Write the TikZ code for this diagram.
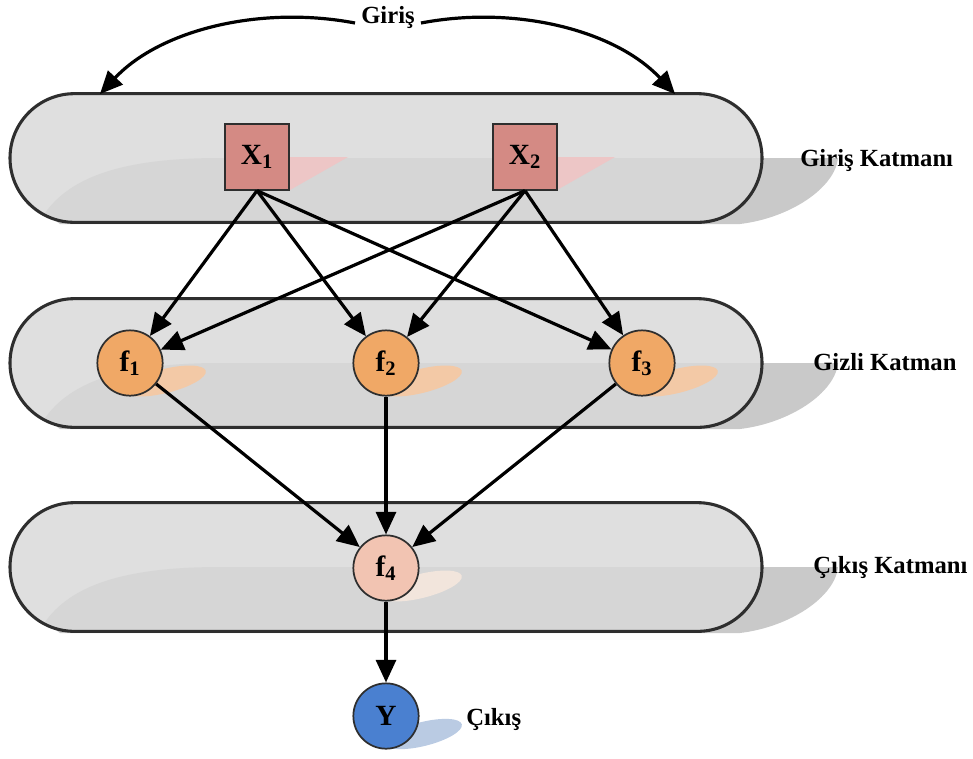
\documentclass[tikz,border=0pt]{standalone}
\usepackage{fontspec}
\setmainfont{Liberation Serif}
\usetikzlibrary{arrows.meta,shapes.misc}
\definecolor{bandfill}{HTML}{DFDFDF}
\definecolor{bandlow}{HTML}{D6D6D6}
\definecolor{bandshadow}{HTML}{C9C9C9}
\definecolor{bandline}{HTML}{2E2E2E}
\definecolor{xfill}{HTML}{D48A84}
\definecolor{xshadow}{HTML}{EDC6C6}
\definecolor{ffill}{HTML}{F0A866}
\definecolor{fshadow}{HTML}{F3C9A6}
\definecolor{ffourfill}{HTML}{F2C4B2}
\definecolor{ffourshadow}{HTML}{F2E5DC}
\definecolor{yfill}{HTML}{4A80D0}
\definecolor{yshadow}{HTML}{BACBE3}
\tikzset{
  xbox/.style={draw=bandline,line width=1.5pt,fill=xfill,minimum width=48pt,minimum height=49pt,inner sep=0pt,font=\fontsize{22}{23}\selectfont\bfseries},
  fcirc/.style={circle,draw=bandline,line width=1.3pt,minimum size=49pt,inner sep=0pt,font=\fontsize{22}{23}\selectfont\bfseries},
  lbl/.style={font=\fontsize{18.5}{19}\selectfont\bfseries,inner sep=0pt},
  conn/.style={line width=2.4pt,-{Triangle[length=17pt,width=15pt]}},
  bandbox/.style={rounded rectangle,draw=bandline,line width=2.3pt,minimum width=564pt,minimum height=96.5pt,inner sep=0pt}
}
\newcommand\layershadow[1]{%
  \fill[bandshadow] (45,#1+55) .. controls (70,#1+20) and (120,#1) .. (220,#1) -- (838,#1)
     .. controls (835,#1+30) and (790,#1+60) .. (740,#1+66) -- (60,#1+66) -- cycle;
  \fill[bandfill,rounded corners=48pt] (10,#1-64) rectangle (762,#1+65);
  \begin{scope}
    \clip[rounded corners=48pt] (10,#1-64) rectangle (762,#1+65);
    \fill[bandlow] (45,#1+55) .. controls (70,#1+20) and (120,#1) .. (220,#1) -- (838,#1)
     .. controls (835,#1+30) and (790,#1+60) .. (740,#1+66) -- (20,#1+70) -- cycle;
  \end{scope}}
\begin{document}
\begin{tikzpicture}[x=0.75pt,y=-0.75pt]
\useasboundingbox (0,0) rectangle (973,758);
% layer backgrounds
\layershadow{158}
\layershadow{363}
\layershadow{567}
\node[bandbox] (L1) at (386,158) {};
\node[bandbox] (L2) at (386,363) {};
\node[bandbox] (L3) at (386,567) {};
% node shadows
\fill[xshadow] (290,157) -- (348,157) -- (290,190) -- cycle;
\fill[xshadow] (557,157) -- (615,157) -- (557,190) -- cycle;
\fill[fshadow,rotate around={14:(165,381)}] (165,381) ellipse [x radius=42, y radius=12];
\fill[fshadow,rotate around={14:(421,381)}] (421,381) ellipse [x radius=42, y radius=12];
\fill[fshadow,rotate around={14:(677,381)}] (677,381) ellipse [x radius=42, y radius=12];
\fill[ffourshadow,rotate around={14:(421,586)}] (421,586) ellipse [x radius=42, y radius=12];
\fill[yshadow,rotate around={14:(423,734)}] (423,734) ellipse [x radius=40, y radius=12];
% nodes
\node[xbox] (x1) at (257,157) {X\textsubscript{1}};
\node[xbox] (x2) at (525,157) {X\textsubscript{2}};
\node[fcirc,fill=ffill] (f1) at (130,363) {f\textsubscript{1}};
\node[fcirc,fill=ffill] (f2) at (386,363) {f\textsubscript{2}};
\node[fcirc,fill=ffill] (f3) at (642,363) {f\textsubscript{3}};
\node[fcirc,fill=ffourfill] (f4) at (386,568) {f\textsubscript{4}};
\node[fcirc,fill=yfill] (y) at (386,716) {Y};
% labels
\node[lbl] (gin) at (388,17) {Giriş};
\node[lbl,anchor=west] (l1) at (800,160) {Giriş Katmanı};
\node[lbl,anchor=west] (l2) at (813,362) {Gizli Katman};
\node[lbl,anchor=west] (l3) at (813,567) {Çıkış Katmanı};
\node[lbl,anchor=west] (lout) at (466,719) {Çıkış};
\coordinate (ta) at (100,94);
\coordinate (tb) at (675,94);
% connectors
\draw[conn] (gin.west) ++(-6,6) .. controls (260,5) and (160,30) .. (ta);
\draw[conn] (gin.east) ++(6,6) .. controls (515,5) and (615,30) .. (tb);
\foreach \s in {x1,x2}{
  \foreach \t in {f1,f2,f3}{
    \draw[conn] (\s.south) -- (\t);
  }
}
\foreach \s in {f1,f2,f3}{
  \draw[conn] (\s) -- (f4);
}
\draw[conn] (f4) -- (y);
\end{tikzpicture}
\end{document}
